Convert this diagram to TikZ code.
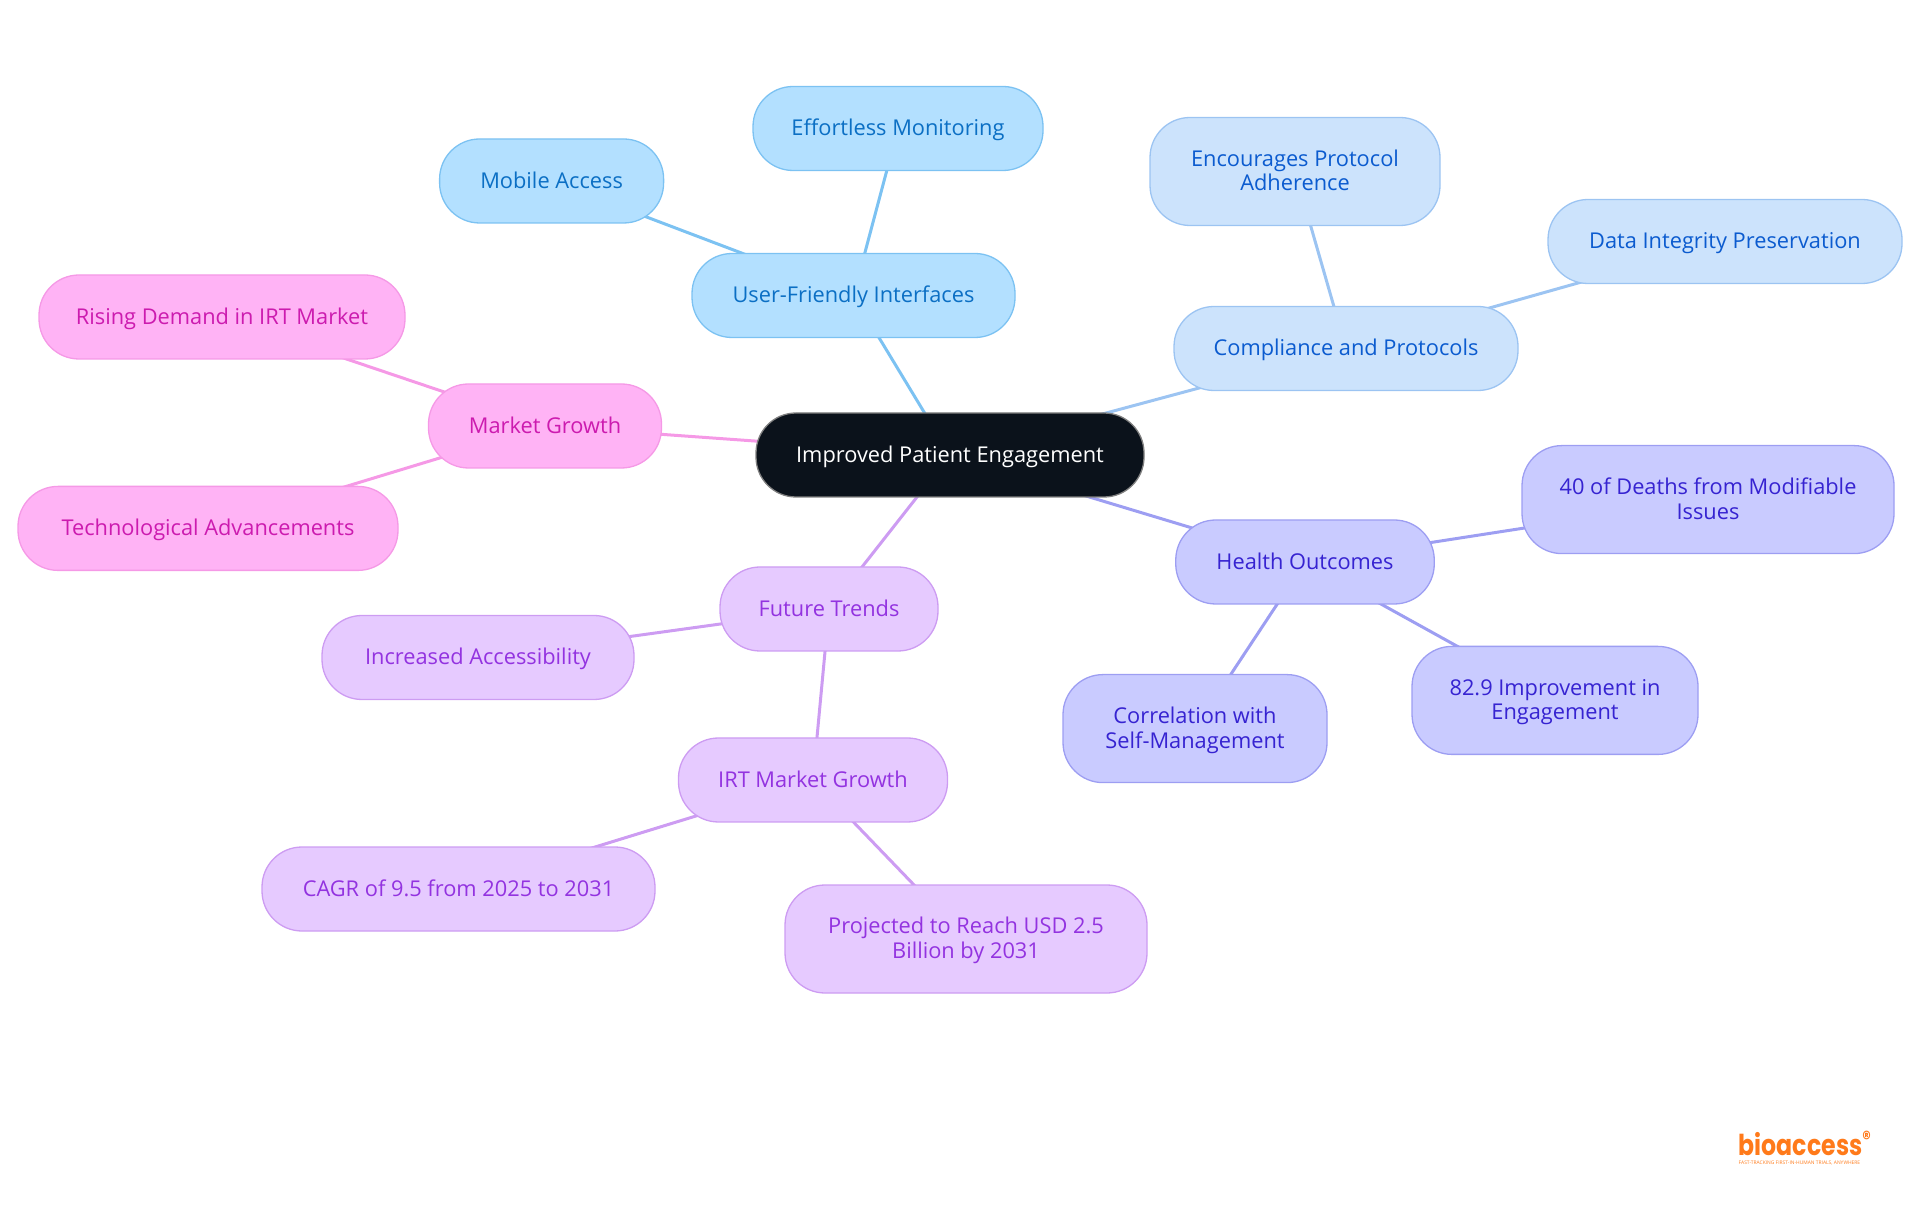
\documentclass[tikz,border=0pt]{standalone}
\usepackage{fontspec}
\usetikzlibrary{backgrounds}
\newfontfamily\mapfont{Open Sans}
\newfontfamily\logofont[FakeStretch=0.82]{Poppins}

\definecolor{bluefill}{HTML}{B3E0FF}
\definecolor{bluedraw}{HTML}{7CC2F2}
\definecolor{bluetext}{HTML}{0B6FC4}
\definecolor{skyfill}{HTML}{CCE3FC}
\definecolor{skydraw}{HTML}{9CC4F2}
\definecolor{skytext}{HTML}{0B5BCF}
\definecolor{indigofill}{HTML}{C9CBFF}
\definecolor{indigodraw}{HTML}{9D9EF2}
\definecolor{indigotext}{HTML}{3623D1}
\definecolor{purplefill}{HTML}{E6CAFF}
\definecolor{purpledraw}{HTML}{CD9CF2}
\definecolor{purpletext}{HTML}{9333E0}
\definecolor{pinkfill}{HTML}{FFB3F5}
\definecolor{pinkdraw}{HTML}{F599E6}
\definecolor{pinktext}{HTML}{CC1BAF}
\definecolor{rootfill}{HTML}{0B121B}
\definecolor{logoorange}{HTML}{FF7A1A}

\tikzset{
  mapnode/.style={draw, rounded corners=0.40cm, line width=0.013cm, inner sep=0pt,
    minimum height=0.84cm, align=center, text height=0.196cm, text depth=0.05cm,
    font=\mapfont\fontsize{6.2pt}{7pt}\selectfont},
  tall/.style={minimum height=1.08cm, text height=0.44cm, text depth=0.05cm},
  bluenode/.style={mapnode, fill=bluefill, draw=bluedraw, text=bluetext},
  skynode/.style={mapnode, fill=skyfill, draw=skydraw, text=skytext},
  indigonode/.style={mapnode, fill=indigofill, draw=indigodraw, text=indigotext},
  purplenode/.style={mapnode, fill=purplefill, draw=purpledraw, text=purpletext},
  pinknode/.style={mapnode, fill=pinkfill, draw=pinkdraw, text=pinktext},
  rootnode/.style={mapnode, fill=rootfill, draw=gray, text=white},
  link/.style={line width=0.03cm}
}

\begin{document}
\begin{tikzpicture}
   \useasboundingbox (0,0) rectangle (19.2,12.15);
   \node[rootnode, minimum width=3.88cm] (root) at (9.50,7.60) {Improved Patient Engagement};

   \node[bluenode, minimum width=3.23cm] (uf) at (8.535,9.195) {User-Friendly Interfaces};
   \node[bluenode, minimum width=2.90cm] (effort) at (8.98,10.865) {Effortless Monitoring};
   \node[bluenode, minimum width=2.24cm] (mobile) at (5.516,10.34) {Mobile Access};

   \node[skynode, minimum width=3.44cm] (compl) at (13.46,8.665) {Compliance and Protocols};
   \node[skynode, tall, minimum width=2.90cm] (enc) at (12.95,10.435) {Encourages Protocol\\Adherence};
   \node[skynode, minimum width=3.54cm] (data) at (17.25,9.735) {Data Integrity Preservation};

   \node[indigonode, minimum width=2.585cm] (health) at (13.05,6.53) {Health Outcomes};
   \node[indigonode, tall, minimum width=3.72cm] (forty) at (17.08,7.154) {40 of Deaths from Modifiable\\Issues};
   \node[indigonode, tall, minimum width=2.86cm] (eighty) at (15.55,5.146) {82.9 Improvement in\\Engagement};
   \node[indigonode, tall, minimum width=2.64cm] (corr) at (11.95,4.864) {Correlation with\\Self-Management};

   \node[purplenode, minimum width=2.18cm] (future) at (8.29,6.06) {Future Trends};
   \node[purplenode, minimum width=3.12cm] (incr) at (4.78,5.575) {Increased Accessibility};
   \node[purplenode, minimum width=2.69cm] (irt) at (8.13,4.35) {IRT Market Growth};
   \node[purplenode, minimum width=3.93cm] (cagr) at (4.585,3.26) {CAGR of 9.5 from 2025 to 2031};
   \node[purplenode, tall, minimum width=3.62cm] (proj) at (9.66,2.76) {Projected to Reach USD 2.5\\Billion by 2031};

   \node[pinknode, minimum width=2.33cm] (market) at (5.45,7.89) {Market Growth};
   \node[pinknode, minimum width=3.66cm] (rising) at (2.22,8.98) {Rising Demand in IRT Market};
   \node[pinknode, minimum width=3.80cm] (tech) at (2.08,6.866) {Technological Advancements};

   \node[text=logoorange, inner sep=0pt, anchor=base west, font=\logofont\bfseries\fontsize{8.2pt}{9pt}\selectfont] (logo) at (17.38,0.60) {bioaccess\textsuperscript{®}};
   \node[text=logoorange, inner sep=0pt, anchor=base west, font=\mapfont\fontsize{1.4pt}{2pt}\selectfont] (tagline) at (17.38,0.51) {FAST-TRACKING FIRST-IN-HUMAN TRIALS, ANYWHERE};

   \begin{scope}[on background layer]
   \path[link, draw=bluedraw] (root.center) edge (uf.center);
   \path[link, draw=bluedraw] (uf.center) edge (effort.center);
   \path[link, draw=bluedraw] (uf.center) edge (mobile.center);
   \path[link, draw=skydraw] (root.center) edge (compl.center);
   \path[link, draw=skydraw] (compl.center) edge (enc.center);
   \path[link, draw=skydraw] (compl.center) edge (data.center);
   \path[link, draw=indigodraw] (root.center) edge (health.center);
   \path[link, draw=indigodraw] (health.center) edge (forty.center);
   \path[link, draw=indigodraw] (health.center) edge (eighty.center);
   \path[link, draw=indigodraw] (health.center) edge (corr.center);
   \path[link, draw=purpledraw] (root.center) edge (future.center);
   \path[link, draw=purpledraw] (future.center) edge (incr.center);
   \path[link, draw=purpledraw] (future.center) edge (irt.center);
   \path[link, draw=purpledraw] (irt.center) edge (cagr.center);
   \path[link, draw=purpledraw] (irt.center) edge (proj.center);
   \path[link, draw=pinkdraw] (root.center) edge (market.center);
   \path[link, draw=pinkdraw] (market.center) edge (rising.center);
   \path[link, draw=pinkdraw] (market.center) edge (tech.center);
   \end{scope}
\end{tikzpicture}
\end{document}
